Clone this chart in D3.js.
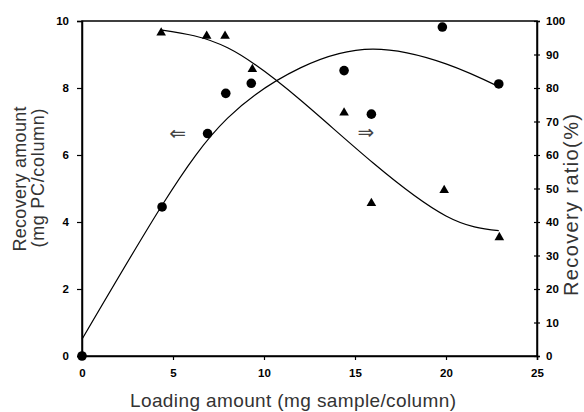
<!DOCTYPE html>
<html>
<head>
<meta charset="utf-8">
<script src="https://cdn.jsdelivr.net/npm/d3@7"></script>
<style>
body { margin: 0; background: #fff; }
svg { display: block; font-family: "Liberation Sans", Arial, sans-serif; }
.tick text { font-weight: bold; font-size: 11.5px; fill: #000; }
.axis path, .axis line { stroke: #000; }
.label { font-size: 18px; fill: #333; }
</style>
</head>
<body>
<div id="chart"></div>
<script>
// Circles: recovery amount (left axis)
var amountX = [0, 4.4, 6.9, 7.9, 9.3, 14.4, 15.9, 19.8, 22.9];
var amountY = [0, 4.45, 6.64, 7.84, 8.14, 8.52, 7.22, 9.82, 8.12];

// Triangles: recovery ratio (right axis)
var ratioX = [4.35, 6.85, 7.86, 9.36, 14.4, 15.9, 19.9, 22.93];
var ratioY = [96.5, 95.5, 95.5, 85.6, 72.6, 45.6, 49.5, 35.4];

// Fitted curves
var amountFitX = [0, 4.4, 8, 12, 16, 20, 22.9];
var amountFitY = [0.5, 4.5, 7.1, 8.6, 9.16, 8.72, 8.04];
var ratioFitX = [4.4, 8, 12, 16, 20, 22.9];
var ratioFitY = [97.3, 92.0, 76.4, 57.6, 41.8, 37.4];

var xTicks = [0, 5, 10, 15, 20, 25];
var leftTicks = [0, 2, 4, 6, 8, 10];
var rightTicks = [0, 10, 20, 30, 40, 50, 60, 70, 80, 90, 100];

var margin = {top: 21, right: 47, bottom: 56, left: 82},
	width = 584 - margin.left - margin.right,
	height = 412 - margin.top - margin.bottom;

var x = d3.scaleLinear().domain([0, 25]).range([0, width]),
	yL = d3.scaleLinear().domain([0, 10]).range([height, 0]),
	yR = d3.scaleLinear().domain([0, 100]).range([height, 0]);

var svg = d3.select("#chart").append("svg")
	.attr("width", 584)
	.attr("height", 412);

var g = svg.append("g")
	.attr("transform", "translate(" + margin.left + "," + margin.top + ")");

// frame
g.append("rect")
	.attr("width", width)
	.attr("height", height)
	.attr("fill", "none")
	.attr("stroke", "#000")
	.attr("stroke-width", 1.5);

// axes
g.append("g")
	.attr("class", "axis")
	.attr("transform", "translate(0," + height + ")")
	.call(d3.axisBottom(x).tickValues(xTicks).tickSize(4).tickPadding(9));

g.append("g")
	.attr("class", "axis")
	.call(d3.axisLeft(yL).tickValues(leftTicks).tickSize(5).tickPadding(8));

var rAxis = g.append("g")
	.attr("class", "axis")
	.attr("transform", "translate(" + width + ",0)")
	.call(d3.axisRight(yR).tickValues(rightTicks).tickSize(3).tickPadding(6));
rAxis.selectAll(".tick line").attr("x1", -3);

g.selectAll(".axis path").attr("stroke-width", 1.5);
g.selectAll(".axis .tick line").attr("stroke-width", 1.2);

// fitted lines
var line = d3.line().curve(d3.curveNatural);

g.append("path")
	.attr("d", line(amountFitX.map(function(d, i) { return [x(d), yL(amountFitY[i])]; })))
	.attr("fill", "none")
	.attr("stroke", "#000")
	.attr("stroke-width", 1.2);

g.append("path")
	.attr("d", line(ratioFitX.map(function(d, i) { return [x(d), yR(ratioFitY[i])]; })))
	.attr("fill", "none")
	.attr("stroke", "#000")
	.attr("stroke-width", 1.2);

// markers
g.selectAll(".dot")
	.data(amountX)
	.enter().append("circle")
	.attr("class", "dot")
	.attr("cx", function(d) { return x(d); })
	.attr("cy", function(d, i) { return yL(amountY[i]); })
	.attr("r", 4.8)
	.attr("fill", "#000");

var tri = d3.symbol().type(d3.symbolTriangle).size(40);
g.selectAll(".tri")
	.data(ratioX)
	.enter().append("path")
	.attr("class", "tri")
	.attr("d", tri)
	.attr("transform", function(d, i) { return "translate(" + x(d) + "," + yR(ratioY[i]) + ")"; })
	.attr("fill", "#000");

// arrows pointing to each axis
g.append("text")
	.attr("x", x(5.25))
	.attr("y", yL(6.66))
	.attr("dy", "0.35em")
	.attr("text-anchor", "middle")
	.style("font-family", "DejaVu Sans")
	.style("font-size", "20px")
	.attr("fill", "#444")
	.text("\u21D0");

g.append("text")
	.attr("x", x(15.6))
	.attr("y", yL(6.7))
	.attr("dy", "0.35em")
	.attr("text-anchor", "middle")
	.style("font-family", "DejaVu Sans")
	.style("font-size", "20px")
	.attr("fill", "#444")
	.text("\u21D2");

// axis labels
svg.append("text")
	.attr("class", "label")
	.attr("text-anchor", "middle")
	.attr("x", 293)
	.attr("y", 407)
	.style("font-size", "19px")
	.attr("textLength", 326)
	.attr("lengthAdjust", "spacing")
	.text("Loading amount (mg sample/column)");

svg.append("text")
	.attr("class", "label")
	.attr("text-anchor", "middle")
	.attr("transform", "translate(26,179) rotate(-90)")
	.attr("textLength", 145)
	.attr("lengthAdjust", "spacing")
	.text("Recovery amount");

svg.append("text")
	.attr("class", "label")
	.attr("text-anchor", "middle")
	.attr("transform", "translate(44,178) rotate(-90)")
	.attr("textLength", 139)
	.attr("lengthAdjust", "spacing")
	.text("(mg PC/column)");

svg.append("text")
	.attr("class", "label")
	.attr("text-anchor", "middle")
	.attr("transform", "translate(578,205) rotate(-90)")
	.style("font-size", "20px")
	.attr("textLength", 182)
	.attr("lengthAdjust", "spacing")
	.text("Recovery ratio(%)");
</script>
</body>
</html>
